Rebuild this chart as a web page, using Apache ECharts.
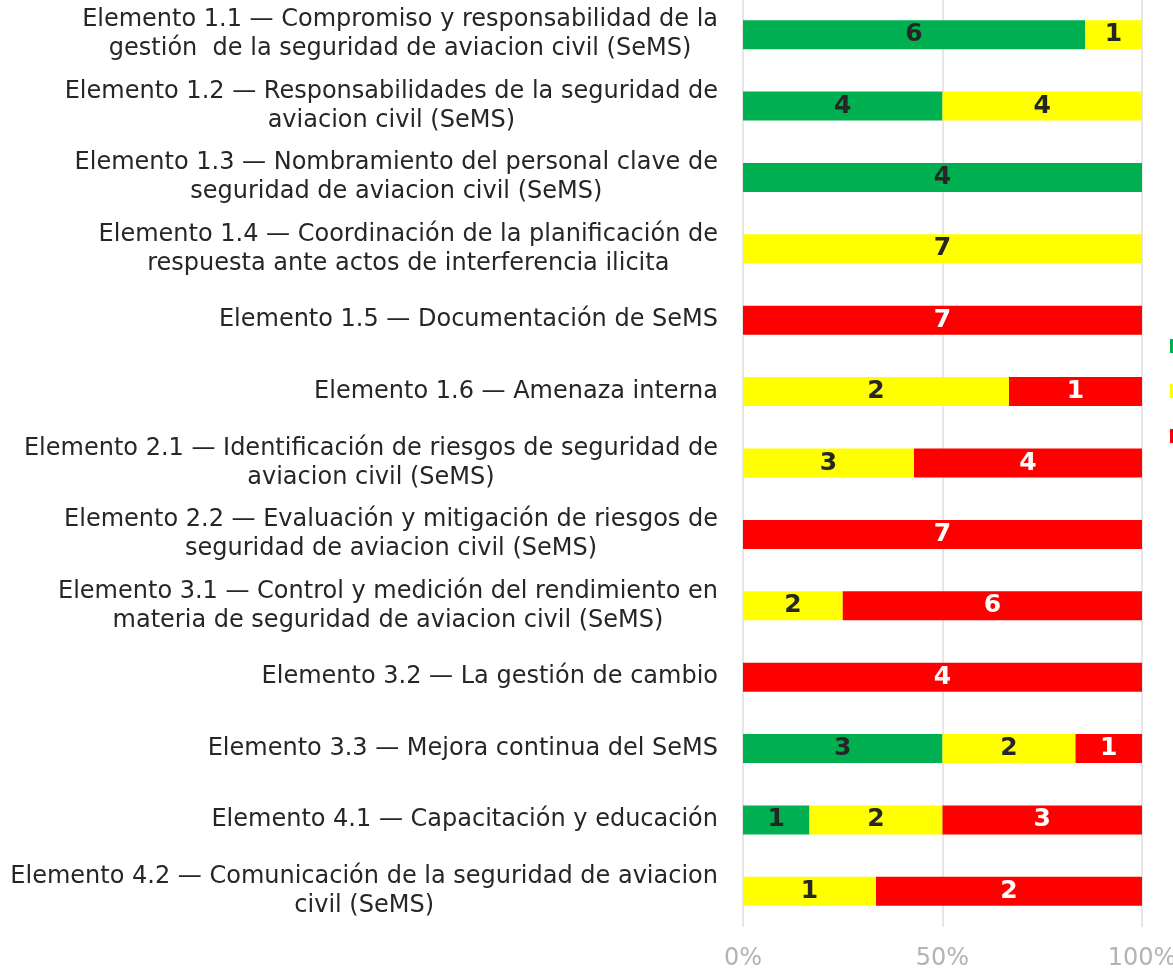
<!DOCTYPE html>
<html>
<head>
<meta charset="utf-8">
<script src="https://cdn.jsdelivr.net/npm/echarts@6/dist/echarts.min.js"></script>
<style>
	html, body { margin: 0; padding: 0; background: #fff; }
	#chart { width: 1173px; height: 970px; }
</style>
</head>
<body>
<div id="chart"></div>
<script>
const categories = [
	"Elemento 1.1 — Compromiso y responsabilidad de la\ngestión  de la seguridad de aviacion civil (SeMS)",
	"Elemento 1.2 — Responsabilidades de la seguridad de\naviacion civil (SeMS)",
	"Elemento 1.3 — Nombramiento del personal clave de\nseguridad de aviacion civil (SeMS)",
	"Elemento 1.4 — Coordinación de la planificación de\nrespuesta ante actos de interferencia ilicita",
	"Elemento 1.5 — Documentación de SeMS",
	"Elemento 1.6 — Amenaza interna",
	"Elemento 2.1 — Identificación de riesgos de seguridad de\naviacion civil (SeMS)",
	"Elemento 2.2 — Evaluación y mitigación de riesgos de\nseguridad de aviacion civil (SeMS)",
	"Elemento 3.1 — Control y medición del rendimiento en\nmateria de seguridad de aviacion civil (SeMS)",
	"Elemento 3.2 — La gestión de cambio",
	"Elemento 3.3 — Mejora continua del SeMS",
	"Elemento 4.1 — Capacitación y educación",
	"Elemento 4.2 — Comunicación de la seguridad de aviacion\ncivil (SeMS)",
];

const seriesNames = ["Implementado", "Parcialmente implementado", "No implementado"];
const seriesColors = ["#00b050", "#ffff00", "#ff0000"];
const labelColors = ["#262626", "#262626", "#ffffff"];

const greenCounts = [6, 4, 4, 0, 0, 0, 0, 0, 0, 0, 3, 1, 0];
const yellowCounts = [1, 4, 0, 7, 0, 2, 3, 0, 2, 0, 2, 2, 1];
const redCounts = [0, 0, 0, 0, 7, 1, 4, 7, 6, 4, 1, 3, 2];

const xTicks = [0, 50, 100];

const counts = [greenCounts, yellowCounts, redCounts];
const totals = categories.map((c, i) => greenCounts[i] + yellowCounts[i] + redCounts[i]);

const chart = echarts.init(document.getElementById("chart"));

chart.setOption({
	animation : false,
	legend    : {
		orient     : "vertical",
		left       : 1170,
		top        : 336,
		padding    : 0,
		align      : "left",
		itemWidth  : 14,
		itemHeight : 14,
		itemGap    : 25,
		icon       : "rect",
		data       : seriesNames,
		textStyle  : { fontSize: 20, color: "#595959" },
	},
	grid: {
		left            : 743,
		right           : 31,
		top             : -1,
		bottom          : 43,
		outerBoundsMode : "none",
	},
	xAxis: {
		type      : "value",
		min       : xTicks[0],
		max       : xTicks[xTicks.length - 1],
		interval  : 50,
		axisLine  : { show: false },
		axisTick  : { show: false },
		splitLine : { show: true, lineStyle: { color: "#e6e6e6", width: 2 } },
		axisLabel : {
			margin     : 20,
			fontSize   : 24,
			fontFamily : "DejaVu Sans",
			color      : "#b3b3b3",
			formatter  : "{value}%",
		},
	},
	yAxis: {
		type      : "category",
		inverse   : true,
		data      : categories,
		axisLine  : { show: false },
		axisTick  : { show: false },
		axisLabel : {
			margin    : 25,
			formatter : (v) => "{c|" + v + "}",
			rich      : {
				c: {
					align      : "center",
					fontSize   : 24,
					lineHeight : 29,
					fontFamily : "DejaVu Sans",
					color      : "#262626",
				},
			},
		},
	},
	series: seriesNames.map((name, s) => ({
		name      : name,
		type      : "bar",
		stack     : "total",
		barWidth  : 29,
		itemStyle : { color: seriesColors[s] },
		label     : {
			show       : true,
			position   : "inside",
			fontSize   : 25,
			fontWeight : "bold",
			fontFamily : "DejaVu Sans",
			color      : labelColors[s],
			formatter  : (p) => (counts[s][p.dataIndex] ? String(counts[s][p.dataIndex]) : ""),
		},
		data: counts[s].map((v, i) => (v / totals[i]) * 100),
	})),
});
</script>
</body>
</html>
